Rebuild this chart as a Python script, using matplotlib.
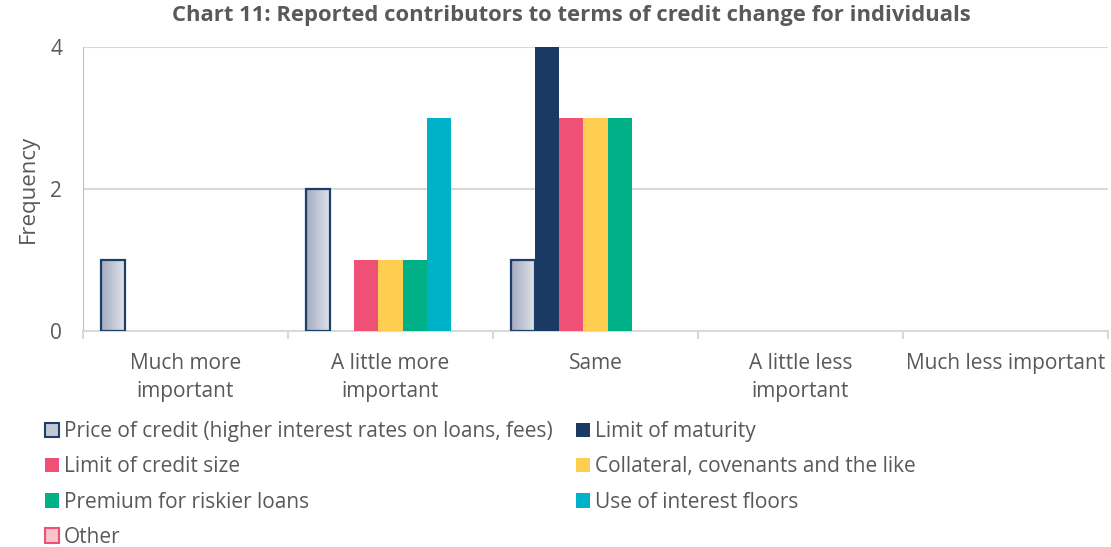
import numpy as np
import matplotlib.pyplot as plt
from matplotlib.patches import Patch
from matplotlib.colors import LinearSegmentedColormap

plt.rcParams['font.family'] = ['Open Sans', 'DejaVu Sans']

categories = ["Much more\nimportant", "A little more\nimportant", "Same",
              "A little less\nimportant", "Much less important"]

series_names = ["Price of credit (higher interest rates on loans, fees)",
                "Limit of maturity",
                "Limit of credit size",
                "Collateral, covenants and the like",
                "Premium for riskier loans",
                "Use of interest floors",
                "Other"]

price = [1, 2, 1, 0, 0]
maturity = [0, 0, 4, 0, 0]
credit_size = [0, 1, 3, 0, 0]
collateral = [0, 1, 3, 0, 0]
premium = [0, 1, 3, 0, 0]
floors = [0, 3, 0, 0, 0]
other = [0, 0, 0, 0, 0]

all_vals = [price, maturity, credit_size, collateral, premium, floors, other]
colors = ["#C3C8D4", "#1A3A63", "#EF5075", "#FFCD4F", "#00B086", "#00B2C8", "#F9C4CC"]
edges = ["#1F3F6B", None, None, None, None, None, "#EF5075"]

TXT = "#595959"

fig = plt.figure(figsize=(11.11, 5.47), dpi=100)
ax = fig.add_axes([0.0747, 0.3949, 0.9226, 0.5191])

x = np.arange(len(categories))
w = 1 / 8.5
grad = np.linspace(0, 1, 64).reshape(1, -1)
price_cmap = LinearSegmentedColormap.from_list("pr", ["#A3ABBF", "#E2E5EC"])
other_cmap = LinearSegmentedColormap.from_list("ot", ["#F7A8B4", "#FDE4E8"])

for i, (vals, c, e) in enumerate(zip(all_vals, colors, edges)):
    vals = np.array(vals, dtype=float)
    pos = x + (i - 3) * w
    lw = [1.6 if (e and v > 0) else 0 for v in vals]
    bars = ax.bar(pos, vals, width=w, color=c, edgecolor=e if e else c,
                  linewidth=lw, zorder=3)
    if e:
        # gradient fill like the excel original
        cm = price_cmap if i == 0 else other_cmap
        for b, v in zip(bars, vals):
            if v <= 0:
                continue
            b.set_facecolor("none")
            bx, by = b.get_x(), b.get_y()
            im = ax.imshow(grad, cmap=cm, aspect="auto", zorder=2.9,
                           extent=[bx, bx + b.get_width(), by, by + b.get_height()])
            im.set_clip_path(b)

ax.set_xlim(-0.5, 4.5)
ax.set_ylim(0, 4)
ax.set_yticks([0, 2, 4])
ax.yaxis.grid(True, color="#D9D9D9", linewidth=1.5, zorder=0)
ax.set_axisbelow(True)
for s in ["top", "right"]:
    ax.spines[s].set_visible(False)
ax.spines["left"].set_color("#BFBFBF")
ax.spines["bottom"].set_color("#D9D9D9")
ax.spines["bottom"].set_linewidth(1.5)
ax.tick_params(axis="y", length=0, labelsize=15, labelcolor=TXT, pad=15)
ax.set_xticks(x)
ax.set_xticklabels(categories, fontsize=15, color=TXT, linespacing=1.45)
ax.tick_params(axis="x", which="major", length=0, pad=16)
ax.set_xticks(np.arange(-0.5, 5.0, 1.0), minor=True)
ax.tick_params(axis="x", which="minor", length=6, color="#D9D9D9", width=1.5)
ax.set_ylabel("Frequency", fontsize=16, color=TXT, labelpad=8)

fig.suptitle("Chart 11: Reported contributors to terms of credit change for individuals",
             x=0.514, y=0.99, fontsize=15.8, fontweight="bold", color=TXT)

handles = []
for c, e, n in zip(colors, edges, series_names):
    handles.append(Patch(facecolor=c, edgecolor=e if e else c,
                         linewidth=1.5 if e else 0, label=n))

left_idx = [0, 2, 4, 6]
right_idx = [1, 3, 5]
leg_kw = dict(frameon=False, fontsize=15, labelcolor=TXT, handlelength=0.7,
              handleheight=0.7, handletextpad=0.2, labelspacing=0.68, borderpad=0,
              loc="upper left")
fig.legend([handles[i] for i in left_idx], [series_names[i] for i in left_idx],
           bbox_to_anchor=(0.031, 0.249), **leg_kw)
fig.legend([handles[i] for i in right_idx], [series_names[i] for i in right_idx],
           bbox_to_anchor=(0.509, 0.249), **leg_kw)

fig.savefig("out.png", dpi=100)
